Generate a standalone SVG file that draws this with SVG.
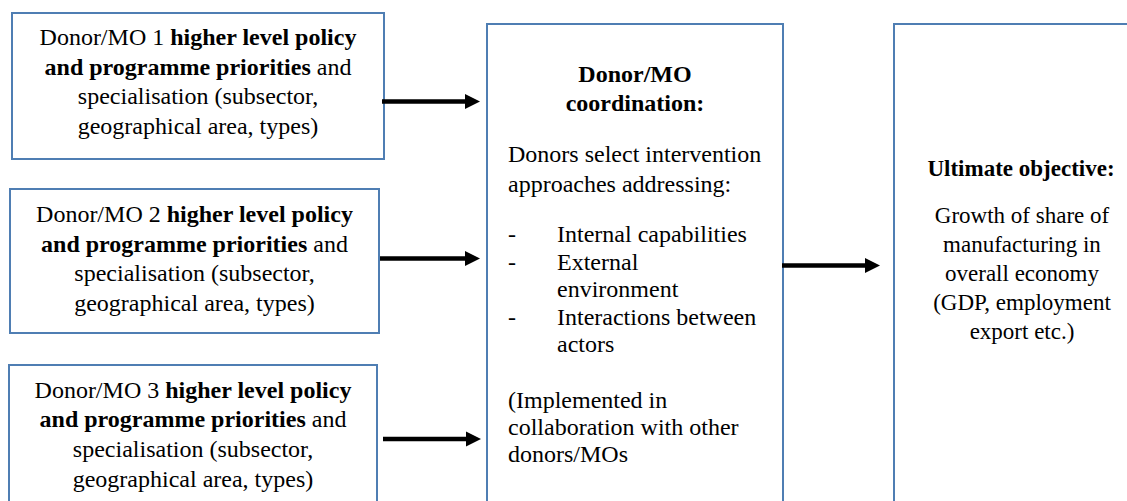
<svg xmlns="http://www.w3.org/2000/svg" width="1127" height="501" viewBox="0 0 1127 501" font-family="'Liberation Serif', 'Times New Roman', serif" font-size="24">
<style>
.box{fill:#fff;stroke:#4F7EB3;stroke-width:2}
text, tspan{font-family:'Liberation Serif','Times New Roman',serif;font-size:24px;fill:#000}
.r text{font-size:23px}
.c{text-anchor:middle}
.b{font-weight:bold}
.conn{stroke:#000;stroke-width:4.5;fill:none}
.head{fill:#000}
</style>
<rect width="1127" height="501" fill="#fff"/>
<g id="donor1">
<rect class="box" x="12" y="13" width="372" height="146"/>
<text class="c" x="198" y="45">Donor/MO 1 <tspan class="b">higher level policy</tspan></text>
<text class="c" x="198" y="75"><tspan class="b">and programme priorities</tspan> and</text>
<text class="c" x="198" y="104">specialisation (subsector,</text>
<text class="c" x="198" y="134">geographical area, types)</text>
</g>
<g id="donor2">
<rect class="box" x="10" y="189" width="369" height="144"/>
<text class="c" x="194.5" y="222">Donor/MO 2 <tspan class="b">higher level policy</tspan></text>
<text class="c" x="194.5" y="252"><tspan class="b">and programme priorities</tspan> and</text>
<text class="c" x="194.5" y="281">specialisation (subsector,</text>
<text class="c" x="194.5" y="311">geographical area, types)</text>
</g>
<g id="donor3">
<rect class="box" x="9" y="365" width="368" height="150"/>
<text class="c" x="193" y="398">Donor/MO 3 <tspan class="b">higher level policy</tspan></text>
<text class="c" x="193" y="427"><tspan class="b">and programme priorities</tspan> and</text>
<text class="c" x="193" y="457">specialisation (subsector,</text>
<text class="c" x="193" y="487">geographical area, types)</text>
</g>
<g id="coordination">
<rect class="box" x="487" y="24" width="296" height="490"/>
<text class="c b" x="635" y="82">Donor/MO</text>
<text class="c b" x="635" y="111">coordination:</text>
<text x="508" y="162">Donors select intervention</text>
<text x="508" y="192">approaches addressing:</text>
<text x="508" y="242">-</text>
<text x="557" y="242">Internal capabilities</text>
<text x="508" y="270">-</text>
<text x="557" y="270">External</text>
<text x="557" y="297">environment</text>
<text x="508" y="325">-</text>
<text x="557" y="325">Interactions between</text>
<text x="557" y="352">actors</text>
<text x="508" y="408">(Implemented in</text>
<text x="508" y="435">collaboration with other</text>
<text x="508" y="462">donors/MOs</text>
</g>
<g id="objective" class="r">
<rect class="box" x="894" y="24" width="250" height="490"/>
<text class="c b" x="1021" y="176">Ultimate objective:</text>
<text class="c" x="1022" y="223">Growth of share of</text>
<text class="c" x="1022" y="252">manufacturing in</text>
<text class="c" x="1022" y="281">overall economy</text>
<text class="c" x="1022" y="310">(GDP, employment</text>
<text class="c" x="1022" y="339">export etc.)</text>
</g>
<g id="connectors">
<line class="conn" x1="382" y1="101.5" x2="466" y2="101.5"/>
<polygon class="head" points="465,94 480,101.5 465,109"/>
<line class="conn" x1="380" y1="258.5" x2="466" y2="258.5"/>
<polygon class="head" points="465,251 480,258.5 465,266"/>
<line class="conn" x1="383" y1="439" x2="467" y2="439"/>
<polygon class="head" points="466,431.5 481,439 466,446.5"/>
<line class="conn" x1="782" y1="265.5" x2="866" y2="265.5"/>
<polygon class="head" points="865,258 880,265.5 865,273"/>
</g>
</svg>
